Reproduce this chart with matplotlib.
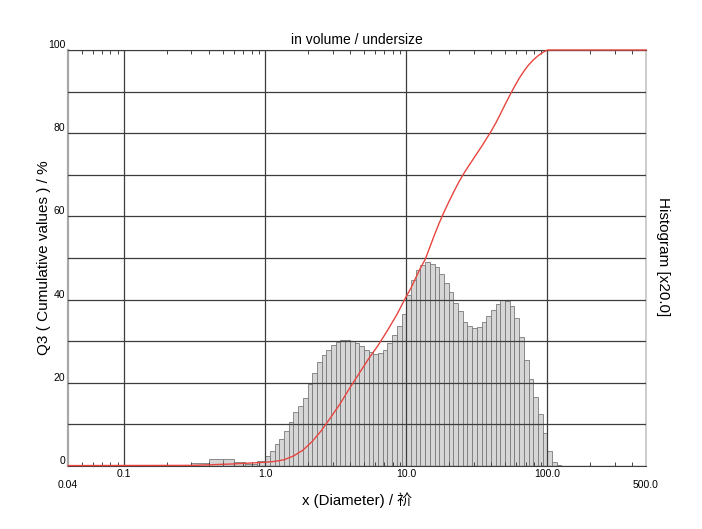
import matplotlib
matplotlib.use('Agg')
import matplotlib.pyplot as plt
import numpy as np
from matplotlib.ticker import NullFormatter

plt.rcParams['font.family'] = ['Liberation Sans', 'Noto Sans CJK SC', 'DejaVu Sans']

# histogram channels (um), lower/upper edges of every bar
edges = [0.30, 0.40, 0.50, 0.60, 0.72, 0.88,
         1.000, 1.080, 1.166, 1.259, 1.359, 1.468, 1.585, 1.711, 1.848, 1.995,
         2.154, 2.326, 2.512, 2.712, 2.929, 3.162, 3.415, 3.687, 3.981, 4.299,
         4.642, 5.012, 5.412, 5.843, 6.310, 6.813, 7.356, 7.943, 8.577, 9.261,
         10.00, 10.80, 11.66, 12.59, 13.59, 14.68, 15.85, 17.11, 18.48, 19.95,
         21.54, 23.26, 25.12, 27.12, 29.29, 31.62, 34.15, 36.87, 39.81, 42.99,
         46.42, 50.12, 54.12, 58.43, 63.10, 68.13, 73.56, 79.43, 85.77, 92.61,
         100.0, 108.0, 116.6, 125.9]
# histogram heights (already x20)
hist = [0.7, 1.7, 1.7, 1.0, 0.6, 1.2,
        2.4, 3.6, 5.4, 6.6, 8.5, 10.5, 13.0, 14.5, 16.4, 19.6,
        22.4, 25.0, 26.6, 28.0, 29.0, 29.8, 30.4, 30.2, 30.0, 29.6,
        28.8, 28.0, 27.4, 27.0, 27.2, 28.0, 29.6, 31.4, 33.6, 36.6,
        41.2, 44.6, 47.2, 48.4, 49.0, 48.6, 47.8, 46.2, 44.0, 41.8,
        39.2, 37.2, 34.5, 33.6, 33.2, 33.4, 34.6, 36.0, 37.6, 39.0,
        40.0, 39.6, 38.4, 35.5, 31.0, 25.5, 21.0, 16.5, 12.5, 8.0,
        3.7, 1.0, 0.3]

# cumulative undersize Q3 (%)
cum_size = [0.04, 0.3, 0.6, 1.0, 1.166, 1.359, 1.585, 1.848, 2.154, 2.512,
            2.929, 3.415, 3.981, 4.642, 5.412, 6.310, 7.356, 8.577, 9.261,
            10.0, 10.8, 11.66, 12.59, 13.59, 14.68, 15.85, 17.11, 18.48, 19.95,
            21.54, 23.26, 25.12, 27.12, 29.29, 31.62, 34.15, 36.87, 39.81,
            42.99, 46.42, 50.12, 54.12, 58.43, 63.10, 68.13, 73.56, 79.43,
            85.77, 92.61, 100.0, 500.0]
cum_q3 = [0.1, 0.15, 0.5, 0.9, 1.1, 1.5, 2.4, 3.8, 5.9, 8.6,
          11.8, 15.1, 18.8, 22.3, 25.8, 29.0, 32.6, 36.4, 38.6,
          40.8, 42.8, 45.2, 47.6, 49.6, 52.6, 55.6, 58.4, 61.0, 63.4,
          65.7, 67.9, 69.9, 71.7, 73.4, 75.1, 76.8, 78.6, 80.4,
          82.4, 84.6, 86.9, 89.1, 91.2, 93.2, 94.9, 96.4, 97.6,
          98.6, 99.4, 100.0, 100.0]

xticks = [0.04, 0.1, 1.0, 10.0, 100.0, 500.0]
xticklabels = ['\n0.04', '0.1', '1.0', '10.0', '100.0', '\n500.0']
yticks = list(range(0, 101, 10))

fig = plt.figure(figsize=(7.02, 5.29), dpi=100)
ax = fig.add_axes([68/702, 63/529, 578/702, 416/529])

lo = np.array(edges[:-1])
hi = np.array(edges[1:])
ax.bar(lo, hist, width=hi-lo, align='edge', color='#d6d6d6',
       edgecolor='#7a7a7a', linewidth=0.6, zorder=2)
ax.plot(cum_size, cum_q3, color='#e8453f', lw=1.0, zorder=4, clip_on=False)

ax.set_xscale('log')
ax.set_xlim(0.04, 500)
ax.set_ylim(0, 100)
ax.set_xticks(xticks, xticklabels)
ax.set_yticks(yticks, [str(v) if v % 20 == 0 else '' for v in yticks])
ax.xaxis.set_minor_formatter(NullFormatter())

ax.set_axisbelow(False)
ax.grid(True, which='major', color='#3c3c3c', lw=0.9)
gl = ax.xaxis.get_gridlines()
gl[0].set_visible(False)
gl[-1].set_visible(False)

ax.tick_params(axis='x', which='major', length=0, pad=2, labelsize=7.5)
ax.tick_params(axis='x', which='minor', direction='in', length=3, width=0.7,
               color='#444444', top=True, bottom=True)
ax.tick_params(axis='y', which='major', length=0, pad=2, labelsize=7.5)
plt.setp(ax.get_yticklabels(), va='bottom')

for s in ['top', 'bottom']:
    ax.spines[s].set_color('#3c3c3c')
    ax.spines[s].set_linewidth(0.8)
ax.spines['left'].set_color('#a8a8a8')
ax.spines['left'].set_linewidth(1.6)
ax.spines['right'].set_color('#c4c4c4')
ax.spines['right'].set_linewidth(1.2)

ax.set_title('in volume / undersize', fontsize=10, pad=4)
ax.set_xlabel('x (Diameter) / 祄', fontsize=10.8, labelpad=1)
ax.set_ylabel('Q3 ( Cumulative values ) / %', fontsize=11)
ax.yaxis.set_label_coords(-0.029, 0.5)
fig.text(663/702, 1-257/529, 'Histogram [x20.0]', rotation=-90,
         ha='center', va='center', fontsize=11)

plt.savefig('out.png', dpi=100)
